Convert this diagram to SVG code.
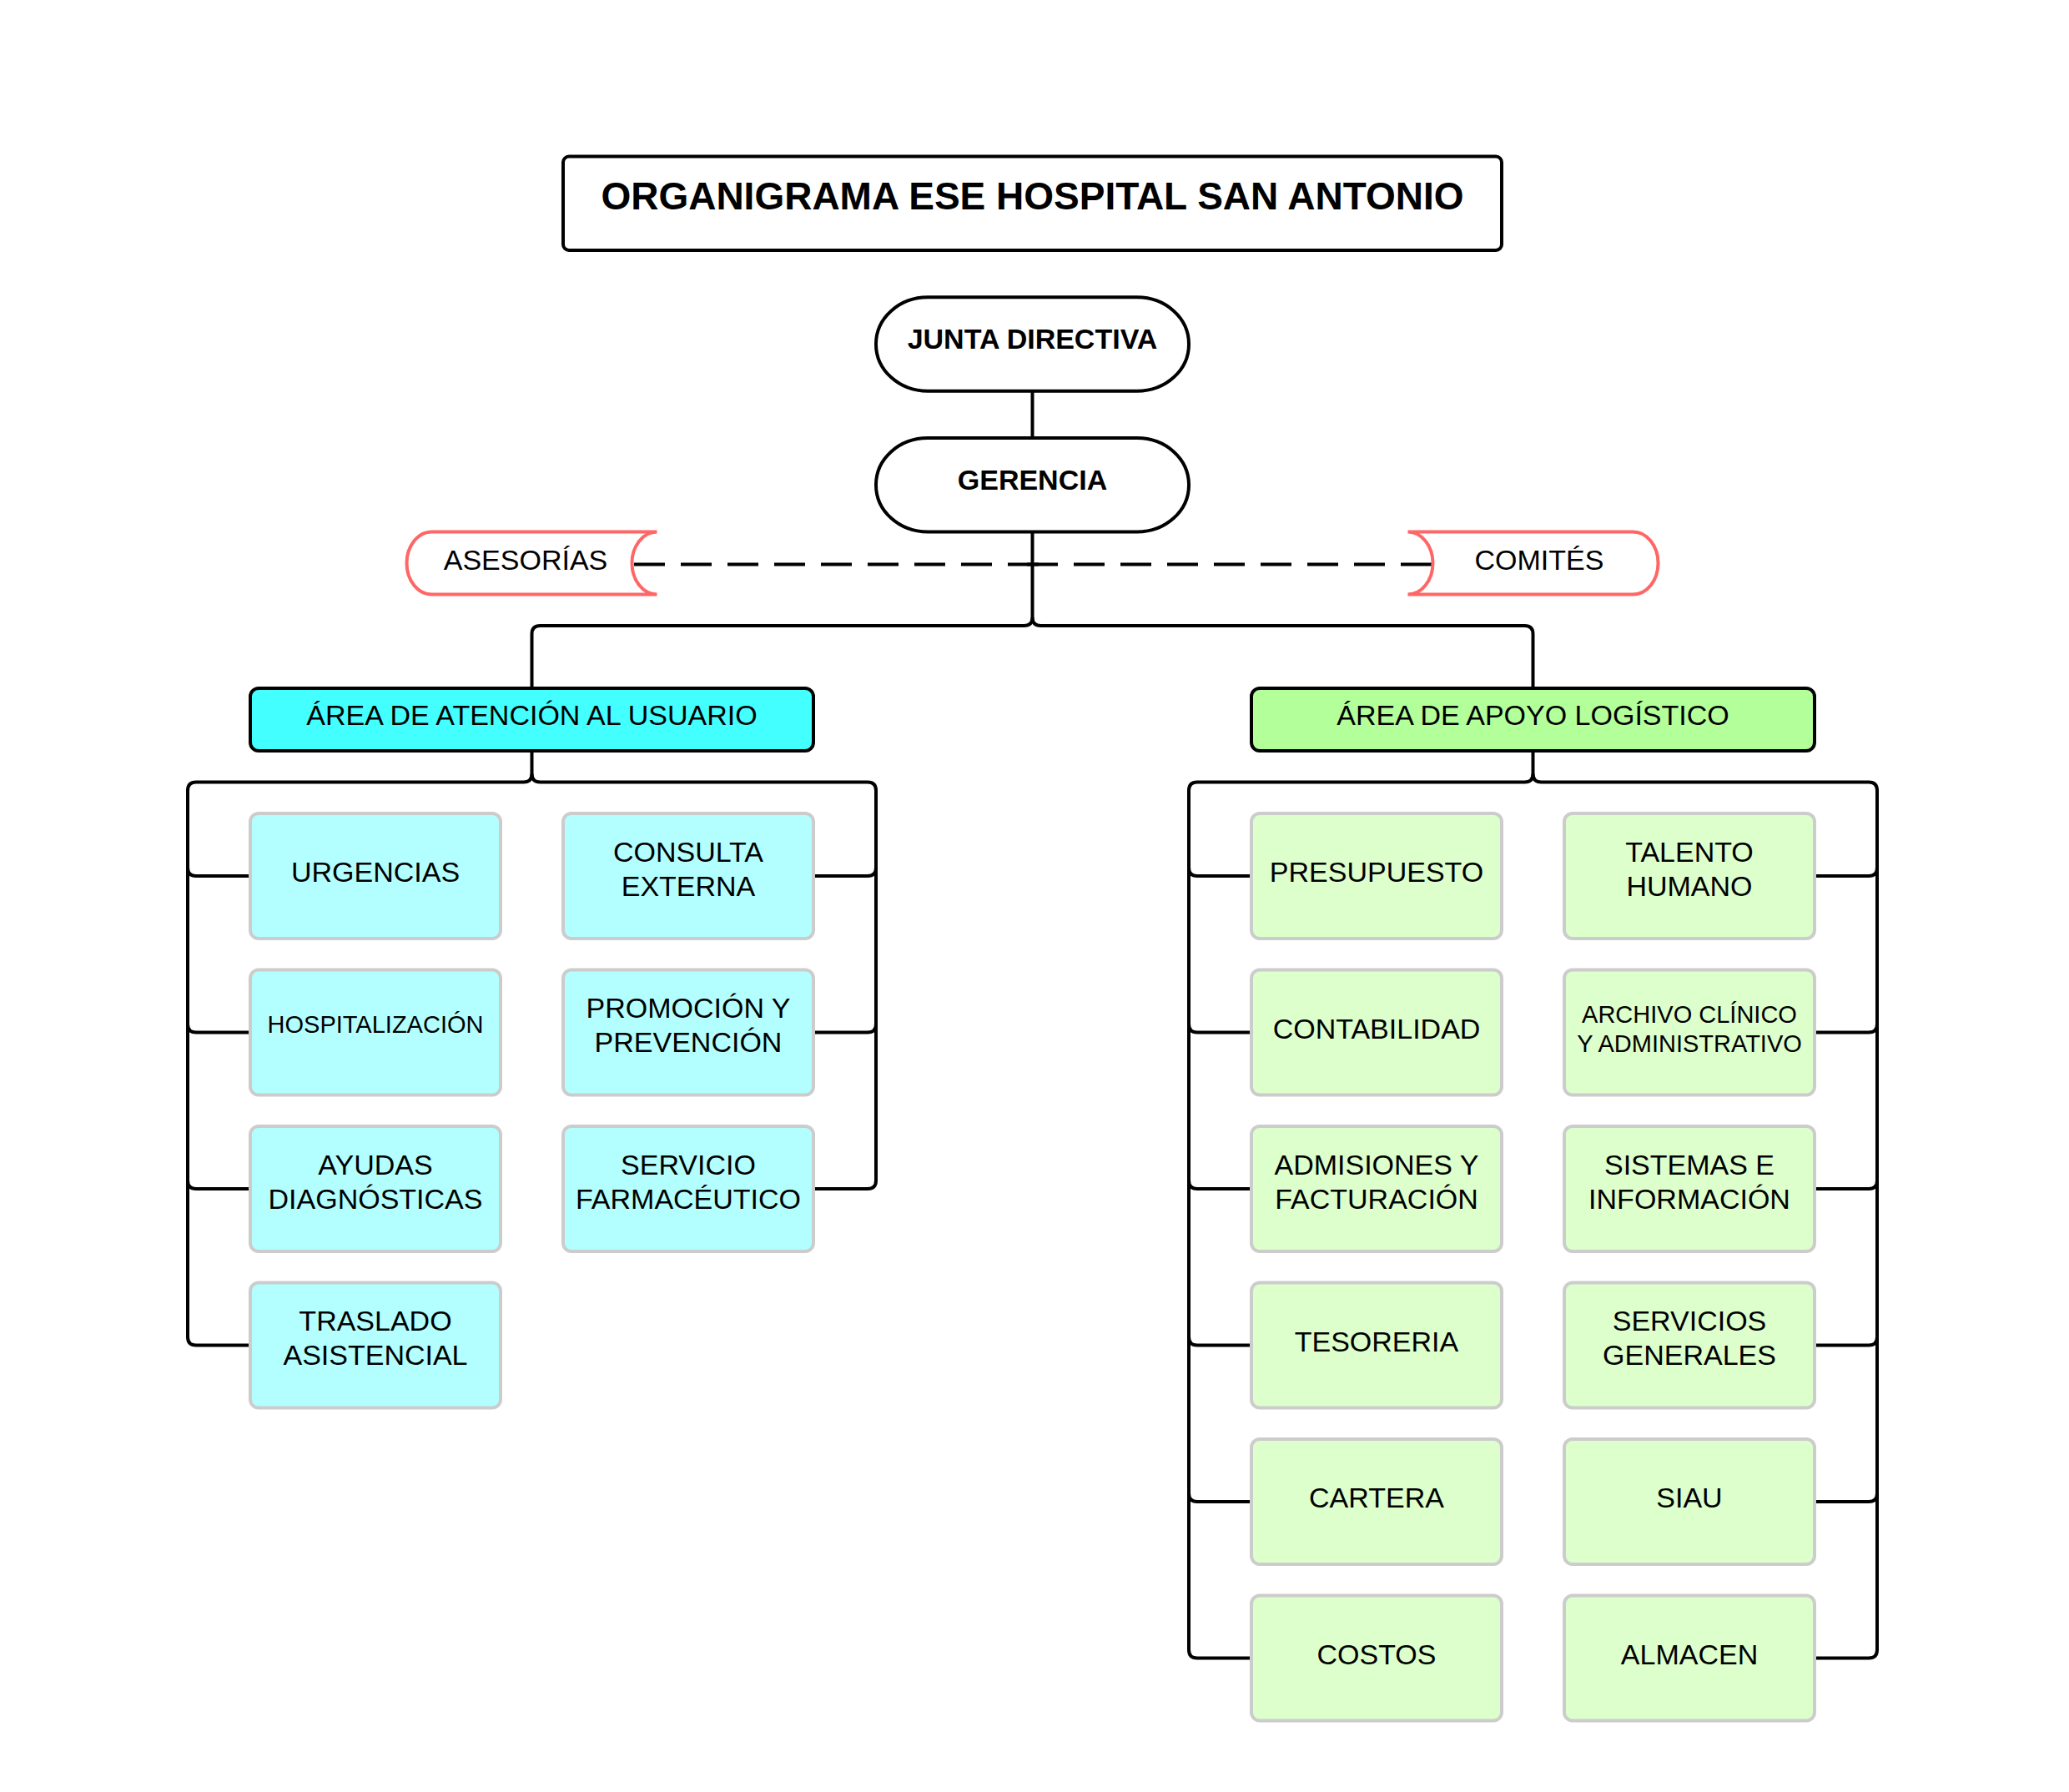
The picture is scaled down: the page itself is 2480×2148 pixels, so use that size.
<svg xmlns="http://www.w3.org/2000/svg" width="2480" height="2148" viewBox="0 0 2480 2148">
<style>
text{font-family:"Liberation Sans",Arial,sans-serif;fill:#000;text-anchor:middle}
.t{font-size:46px;font-weight:bold}
.b{font-size:34px;font-weight:bold}
.r{font-size:34px}
.s{font-size:29px}
.line{fill:none;stroke:#000;stroke-width:4;stroke-linejoin:round;stroke-linecap:butt}
.dash{fill:none;stroke:#000;stroke-width:4;stroke-dasharray:37 19}
.box{stroke:#000;stroke-width:4}
.side{fill:#fff;stroke:#FF6666;stroke-width:4}
.cyanA{fill:#44FFFF;stroke:#000;stroke-width:4}
.greenA{fill:#B3FF99;stroke:#000;stroke-width:4}
.cyan{fill:#B3FFFF;stroke:#CCCCCC;stroke-width:4}
.green{fill:#DDFFCC;stroke:#CCCCCC;stroke-width:4}
</style>
<rect width="2480" height="2148" fill="#fff"/>
<g id="connectors">
<path class="line" d="M1237.5,468.75 V525"/>
<path class="line" d="M1237.5,637.5 V740 Q1237.5,750 1227.5,750 H647.5 Q637.5,750 637.5,760 V825"/>
<path class="line" d="M1237.5,740 Q1237.5,750 1247.5,750 H1827.5 Q1837.5,750 1837.5,760 V825"/>
<path class="dash" d="M760,676.5 H1245"/>
<path class="dash" d="M1716,676.5 H1231"/>
<path class="line" d="M637.5,900 V927.5 Q637.5,937.5 627.5,937.5 H235 Q225,937.5 225,947.5 V1602.5 Q225,1612.5 235,1612.5 H300"/>
<path class="line" d="M637.5,927.5 Q637.5,937.5 647.5,937.5 H1040 Q1050,937.5 1050,947.5 V1415 Q1050,1425 1040,1425 H975"/>
<path class="line" d="M225,1040 Q225,1050 235,1050 H300 M225,1227.5 Q225,1237.5 235,1237.5 H300 M225,1415 Q225,1425 235,1425 H300"/>
<path class="line" d="M1050,1040 Q1050,1050 1040,1050 H975 M1050,1227.5 Q1050,1237.5 1040,1237.5 H975"/>
<path class="line" d="M1837.5,900 V927.5 Q1837.5,937.5 1827.5,937.5 H1435 Q1425,937.5 1425,947.5 V1977.5 Q1425,1987.5 1435,1987.5 H1500"/>
<path class="line" d="M1837.5,927.5 Q1837.5,937.5 1847.5,937.5 H2240 Q2250,937.5 2250,947.5 V1977.5 Q2250,1987.5 2240,1987.5 H2175"/>
<path class="line" d="M1425,1040 Q1425,1050 1435,1050 H1500 M1425,1227.5 Q1425,1237.5 1435,1237.5 H1500 M1425,1415 Q1425,1425 1435,1425 H1500 M1425,1602.5 Q1425,1612.5 1435,1612.5 H1500 M1425,1790 Q1425,1800 1435,1800 H1500"/>
<path class="line" d="M2250,1040 Q2250,1050 2240,1050 H2175 M2250,1227.5 Q2250,1237.5 2240,1237.5 H2175 M2250,1415 Q2250,1425 2240,1425 H2175 M2250,1602.5 Q2250,1612.5 2240,1612.5 H2175 M2250,1790 Q2250,1800 2240,1800 H2175"/>
</g>
<g id="title"><rect x="675" y="187.5" width="1125" height="112.5" rx="7" fill="#fff" class="box"/><text class="t" x="1237.5" y="251">ORGANIGRAMA ESE HOSPITAL SAN ANTONIO</text></g>
<g id="junta"><rect x="1050" y="356.25" width="375" height="112.5" rx="62" ry="56" fill="#fff" class="box"/><text class="b" x="1237.5" y="418">JUNTA DIRECTIVA</text></g>
<g id="gerencia"><rect x="1050" y="525" width="375" height="112.5" rx="62" ry="56" fill="#fff" class="box"/><text class="b" x="1237.5" y="587">GERENCIA</text></g>
<g id="asesorias"><path class="side" d="M787.5,637.5 H517.5 A30,37.5 0 0 0 517.5,712.5 H787.5 A30,37.5 0 0 1 787.5,637.5 Z"/><text class="r" x="630" y="683">ASESORÍAS</text></g>
<g id="comites"><path class="side" d="M1687.5,637.5 A30,37.5 0 0 1 1687.5,712.5 H1957.5 A30,37.5 0 0 0 1957.5,637.5 Z"/><text class="r" x="1845" y="683">COMITÉS</text></g>
<g id="area-usuario"><rect class="cyanA" x="300" y="825" width="675" height="75" rx="10"/><text class="r" x="637.5" y="869">ÁREA DE ATENCIÓN AL USUARIO</text></g>
<g id="area-logistico"><rect class="greenA" x="1500" y="825" width="675" height="75" rx="10"/><text class="r" x="1837.5" y="869">ÁREA DE APOYO LOGÍSTICO</text></g>
<g id="urgencias"><rect class="cyan" x="300" y="975" width="300" height="150" rx="10"/><text class="r" x="450" y="1057">URGENCIAS</text></g>
<g id="consulta"><rect class="cyan" x="675" y="975" width="300" height="150" rx="10"/><text class="r" x="825" y="1033">CONSULTA</text><text class="r" x="825" y="1074">EXTERNA</text></g>
<g id="hospitalizacion"><rect class="cyan" x="300" y="1162.5" width="300" height="150" rx="10"/><text class="s" x="450" y="1238">HOSPITALIZACIÓN</text></g>
<g id="promocion"><rect class="cyan" x="675" y="1162.5" width="300" height="150" rx="10"/><text class="r" x="825" y="1220">PROMOCIÓN Y</text><text class="r" x="825" y="1261">PREVENCIÓN</text></g>
<g id="ayudas"><rect class="cyan" x="300" y="1350" width="300" height="150" rx="10"/><text class="r" x="450" y="1408">AYUDAS</text><text class="r" x="450" y="1449">DIAGNÓSTICAS</text></g>
<g id="farmaceutico"><rect class="cyan" x="675" y="1350" width="300" height="150" rx="10"/><text class="r" x="825" y="1408">SERVICIO</text><text class="r" x="825" y="1449">FARMACÉUTICO</text></g>
<g id="traslado"><rect class="cyan" x="300" y="1537.5" width="300" height="150" rx="10"/><text class="r" x="450" y="1595">TRASLADO</text><text class="r" x="450" y="1636">ASISTENCIAL</text></g>
<g id="presupuesto"><rect class="green" x="1500" y="975" width="300" height="150" rx="10"/><text class="r" x="1650" y="1057">PRESUPUESTO</text></g>
<g id="talento"><rect class="green" x="1875" y="975" width="300" height="150" rx="10"/><text class="r" x="2025" y="1033">TALENTO</text><text class="r" x="2025" y="1074">HUMANO</text></g>
<g id="contabilidad"><rect class="green" x="1500" y="1162.5" width="300" height="150" rx="10"/><text class="r" x="1650" y="1245">CONTABILIDAD</text></g>
<g id="archivo"><rect class="green" x="1875" y="1162.5" width="300" height="150" rx="10"/><text class="s" x="2025" y="1226">ARCHIVO CLÍNICO</text><text class="s" x="2025" y="1261">Y ADMINISTRATIVO</text></g>
<g id="admisiones"><rect class="green" x="1500" y="1350" width="300" height="150" rx="10"/><text class="r" x="1650" y="1408">ADMISIONES Y</text><text class="r" x="1650" y="1449">FACTURACIÓN</text></g>
<g id="sistemas"><rect class="green" x="1875" y="1350" width="300" height="150" rx="10"/><text class="r" x="2025" y="1408">SISTEMAS E</text><text class="r" x="2025" y="1449">INFORMACIÓN</text></g>
<g id="tesoreria"><rect class="green" x="1500" y="1537.5" width="300" height="150" rx="10"/><text class="r" x="1650" y="1620">TESORERIA</text></g>
<g id="servicios"><rect class="green" x="1875" y="1537.5" width="300" height="150" rx="10"/><text class="r" x="2025" y="1595">SERVICIOS</text><text class="r" x="2025" y="1636">GENERALES</text></g>
<g id="cartera"><rect class="green" x="1500" y="1725" width="300" height="150" rx="10"/><text class="r" x="1650" y="1807">CARTERA</text></g>
<g id="siau"><rect class="green" x="1875" y="1725" width="300" height="150" rx="10"/><text class="r" x="2025" y="1807">SIAU</text></g>
<g id="costos"><rect class="green" x="1500" y="1912.5" width="300" height="150" rx="10"/><text class="r" x="1650" y="1995">COSTOS</text></g>
<g id="almacen"><rect class="green" x="1875" y="1912.5" width="300" height="150" rx="10"/><text class="r" x="2025" y="1995">ALMACEN</text></g>
</svg>
